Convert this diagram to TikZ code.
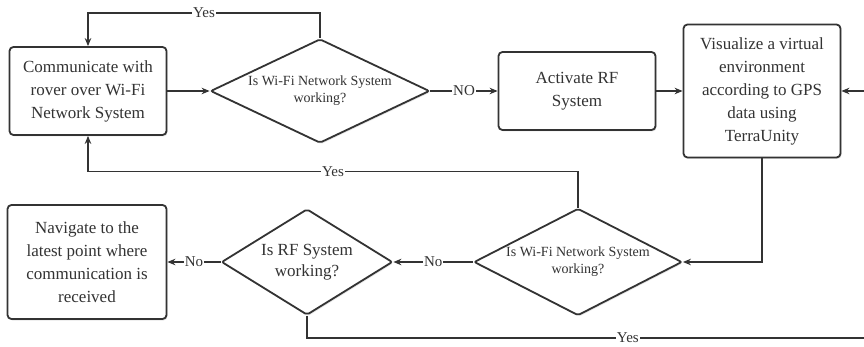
\documentclass[tikz,border=0pt]{standalone}
\usepackage{fontspec}
\setmainfont{Liberation Serif}
\usetikzlibrary{shapes.geometric,arrows.meta,shadows}

\begin{document}
\begin{tikzpicture}[x=1pt,y=-1pt,line width=1.8pt,
  >={Stealth[length=8pt,width=6.5pt]},
  box/.style={draw=black!80,fill=white,rounded corners=4pt,align=center,
    text=black!80,minimum width=157pt,inner sep=2pt,
    font=\fontsize{17}{23}\selectfont,
    drop shadow={shadow xshift=1pt,shadow yshift=-1.5pt,opacity=0.2}},
  query/.style={diamond,draw=black!80,fill=white,rounded corners=2pt,
    align=center,text=black!80,inner sep=0pt,aspect=2,
    font=\fontsize{14}{17}\selectfont,
    drop shadow={shadow xshift=1pt,shadow yshift=-1.5pt,opacity=0.2}},
  lbl/.style={fill=white,inner sep=1pt,text=black!80,
    font=\fontsize{15}{15}\selectfont},
  flow/.style={->,draw=black!80}]
\useasboundingbox (0,0) rectangle (864,347);

\node[box,minimum height=88pt] (comm) at (88,91)
  {Communicate with\\rover over Wi-Fi\\Network System};
\node[query,minimum width=219pt,minimum height=104pt] (wifi_1) at (320,91)
  {Is Wi-Fi Network System\\working?};
\node[box,minimum height=78pt] (rf_on) at (577,91) {Activate RF\\System};
\node[box,minimum height=133pt] (visual) at (762,91)
  {Visualize a virtual\\environment\\according to GPS\\data using\\TerraUnity};
\node[query,minimum width=208pt,minimum height=107pt] (wifi_2) at (578,262)
  {Is Wi-Fi Network System\\working?};
\node[query,minimum width=171pt,minimum height=106pt,
  font=\fontsize{17}{21}\selectfont] (rf_ok) at (307,262)
  {Is RF System\\working?};
\node[box,minimum width=159pt,minimum height=114pt] (nav) at (87,262)
  {Navigate to the\\latest point where\\communication is\\received};
\coordinate (turn_r) at (880,338);

\path[flow] (comm)   edge                  (wifi_1)
            (wifi_1) edge node[lbl] {NO}   (rf_on)
            (rf_on)  edge                  (visual)
            (wifi_2) edge node[lbl] {No}   (rf_ok)
            (rf_ok)  edge node[lbl] {No}   (nav);

\draw[flow] (wifi_1.north) -- ++(0,-25) -| node[lbl,pos=0.25] {Yes} (comm.north);
\draw[flow] (wifi_2.north) -- ++(0,-36) -| node[lbl,pos=0.25] {Yes} (comm.south);
\draw[flow] (visual.south) |- (wifi_2.east);
\draw[flow] (rf_ok.south) |- node[lbl,pos=0.78] {Yes} (turn_r) |- (visual.east);
\end{tikzpicture}
\end{document}
